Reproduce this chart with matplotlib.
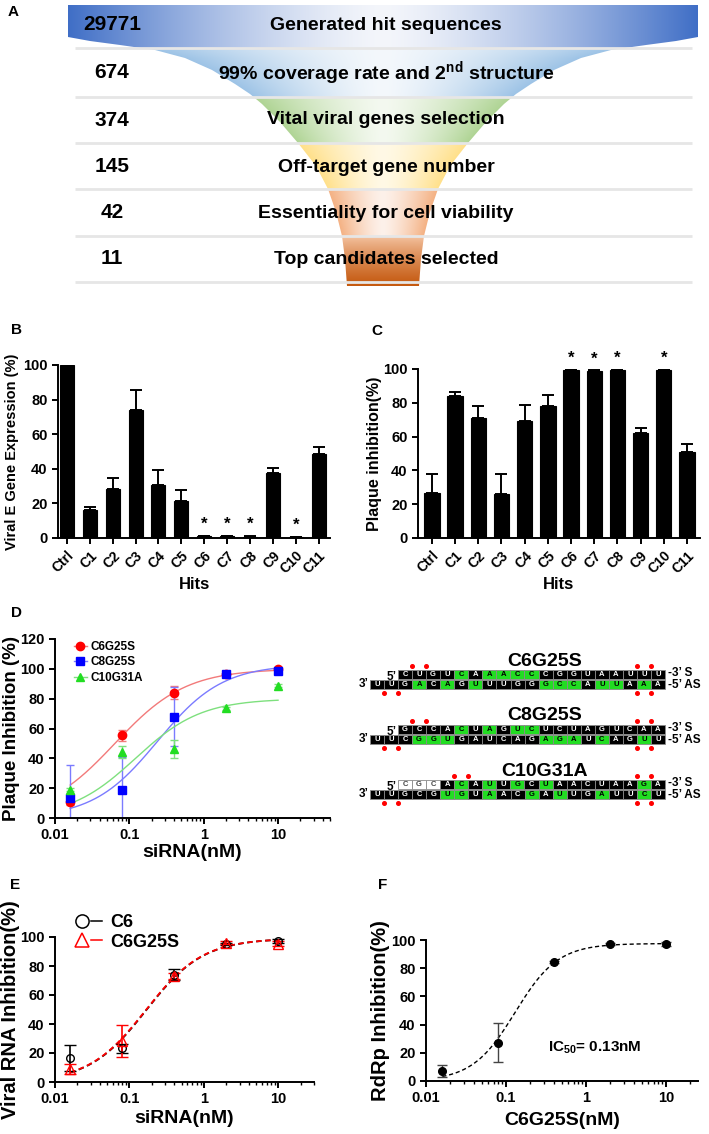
import numpy as np
import matplotlib
matplotlib.use('Agg')
import matplotlib.pyplot as plt
from matplotlib.colors import to_rgb
from matplotlib.patches import Polygon, Rectangle
from matplotlib.lines import Line2D
from matplotlib.legend_handler import HandlerTuple
from matplotlib.ticker import NullFormatter

# ---------------- data ----------------
# A: screening funnel
funnel_counts = ['29771', '674', '374', '145', '42', '11']
funnel_steps = ['Generated hit sequences',
                '99% coverage rate and 2$^{nd}$ structure',
                'Vital viral genes selection',
                'Off-target gene number',
                'Essentiality for cell viability',
                'Top candidates selected']

# B / C: hits
hits = ['Ctrl', 'C1', 'C2', 'C3', 'C4', 'C5', 'C6', 'C7', 'C8', 'C9', 'C10', 'C11']
e_gene_expr = [100, 16.4, 28.3, 73.8, 30.4, 21.6, 1.0, 1.0, 0.8, 37.6, 0.6, 48.7]
e_gene_err = [0, 1.5, 6.6, 11.9, 9.1, 5.9, 0.3, 0.3, 0.3, 2.7, 0.2, 3.9]
e_gene_sig = ['C6', 'C7', 'C8', 'C10']
plaque_inh = [26.9, 83.9, 71.3, 25.9, 69.4, 78.2, 99.2, 99.0, 99.2, 62.3, 99.2, 51.1]
plaque_err = [11.2, 2.3, 6.9, 11.8, 9.2, 6.5, 0.3, 0.3, 0.3, 2.9, 0.3, 4.5]
plaque_sig = ['C6', 'C7', 'C8', 'C10']

# D: dose response (plaque)
conc = [0.016, 0.08, 0.4, 2, 10]
d_names = ['C6G25S', 'C8G25S', 'C10G31A']
d_c6g25s = [10.5, 55.5, 84.0, 96.5, 100.0]
d_c6g25s_err = [1.5, 3.8, 4.5, 0.5, 0.5]
d_c8g25s = [13.5, 19.0, 68.0, 96.5, 98.5]
d_c8g25s_err = [22.0, 22.0, 20.0, 1.0, 1.0]
d_c10g31a = [19.0, 44.0, 46.5, 73.5, 88.5]
d_c10g31a_err = [1.0, 4.0, 6.0, 1.0, 1.0]
# fitted curves: top, EC50 (nM), hill slope
d_top = [100, 103, 80]
d_ec50 = [0.064, 0.24, 0.121]
d_hill = [0.91, 1.0, 0.98]

# D: modified siRNA sequences
seq_names = ['C6G25S', 'C8G25S', 'C10G31A']
sense_seqs = ['CUGUCAAACCCGGUAAUUU', 'GCCACUAGUCUCUAGUCAA', 'CGCACAUUGCUAACUAAGA']
sense_mods = ['kkkkgkggggkkkkkkkkk', 'kkkkgkgkggkkkkkkkkk', 'wwwkgkgkgkgkkkkkkgk']
as_seqs = ['UUGACAGUUUGGGCCAUUAAA', 'UUCGGUGAUCAGAGAUCAGUU', 'UUGCGUGUAACGAUUGAUUCU']
as_mods = ['kkkgkgkgkkkkgggkggkgk', 'kkkgggkkkkkkgggkgkkgk', 'kkkkkggkgkkgkgkkgkkgk']
sense_ps = [[1, 2, 17, 18], [1, 2, 17, 18], [4, 5, 17, 18]]
as_ps = [[1, 2, 19, 20], [1, 2, 19, 20], [1, 2, 19, 20]]

# E: viral RNA inhibition
e_c6 = [16.5, 23.2, 74.1, 95.2, 97.4]
e_c6_err = [8.7, 3.0, 3.7, 1.0, 1.2]
e_c6g25s = [9.2, 28.1, 73.2, 96.0, 95.5]
e_c6g25s_err = [3.4, 11.0, 2.0, 1.0, 1.8]
e_fit_c6 = (99, 0.1675, 1.13)
e_fit_c6g25s = (99, 0.165, 1.13)

# F: RdRp inhibition
rdrp = [7.1, 27.2, 84.2, 97.4, 96.9]
rdrp_err = [4.0, 13.8, 0.8, 0.8, 1.5]
f_fit = (97.5, 0.13, 1.62)

# ---------------- style ----------------
plt.rcParams['font.family'] = ['Liberation Sans', 'DejaVu Sans']
plt.rcParams['font.weight'] = 'bold'
plt.rcParams['axes.labelweight'] = 'bold'
plt.rcParams['mathtext.fontset'] = 'custom'
plt.rcParams['mathtext.rm'] = 'Liberation Sans:bold'
plt.rcParams['mathtext.it'] = 'Liberation Sans:bold'
plt.rcParams['mathtext.bf'] = 'Liberation Sans:bold'
plt.rcParams['mathtext.default'] = 'bf'
plt.rcParams['axes.linewidth'] = 1.4
for a in ('xtick', 'ytick'):
    plt.rcParams[a + '.major.width'] = 1.4
    plt.rcParams[a + '.minor.width'] = 1.0
    plt.rcParams[a + '.major.size'] = 4
    plt.rcParams[a + '.minor.size'] = 2.5

W, H = 709, 1134
fig = plt.figure(figsize=(W / 100, H / 100), dpi=100)


def px_axes(l, t, r, b):
    return fig.add_axes([l / W, 1 - b / H, (r - l) / W, (b - t) / H])


def four_pl(x, top, ec50, hill):
    return top / (1 + (ec50 / x) ** hill)


# ---------------- A ----------------
axA = px_axes(0, 0, W, 295)
axA.set_xlim(0, W)
axA.set_ylim(295, 0)
axA.axis('off')

cx = 383
fy = np.array([5, 37, 41, 45, 50, 58, 70, 84, 94, 104, 122, 143, 166, 189, 212, 236, 259, 286])
fx = np.array([68, 68, 90, 120, 155, 185, 212, 235, 250, 262, 280, 298, 316, 328, 336, 342, 345, 347])
poly = np.vstack([np.column_stack([fx, fy]), np.column_stack([2 * cx - fx, fy])[::-1]])
seps = [48, 97, 143, 189, 236, 282]

gy, gx = np.mgrid[0:290, 0:W].astype(float) + 0.5
half = cx - np.interp(gy, fy, fx)
half = np.where(gy < seps[0], cx - 68, half)
t = np.clip(np.abs(gx - cx) / half, 0, 1)
row = np.searchsorted(seps[:5], gy)
edge_cols = ['#3F6EC6', '#9DC3E6', '#AFD494', '#FFE08A', '#F4B183', '#C55A11']
center_cols = ['#F4F6FB', '#F4F8FC', '#F4F9F0', '#FFF9E6', '#FDF1EA', '#F6C7A6']
ec = np.array([to_rgb(c) for c in edge_cols])[row]
cc = np.array([to_rgb(c) for c in center_cols])[row]
img = cc + (ec - cc) * (t ** 1.4)[..., None]
v = np.clip((gy - 236) / 48, 0, 1)[..., None]
six = np.array(to_rgb('#F6C7A6')) + (np.array(to_rgb('#C55A11')) - np.array(to_rgb('#F6C7A6'))) * v ** 0.8
img = np.where((row == 5)[..., None], six, img)

funnel = Polygon(poly, closed=True, facecolor='none', edgecolor='none')
axA.add_patch(funnel)
im = axA.imshow(img, extent=(0, W, 290, 0), aspect='auto', interpolation='bilinear', zorder=1)
im.set_clip_path(funnel)
axA.hlines(seps, 75, 692, colors='#E6E6E6', lw=2, zorder=2)

row_y = [25, 73, 120, 167, 213, 259]
for y, n, s in zip(row_y, funnel_counts, funnel_steps):
    axA.text(112, y, n, ha='center', va='center', fontsize=15, zorder=3)
    axA.text(386, y, s, ha='center', va='center', fontsize=14, zorder=3)


# ---------------- B / C ----------------
def bar_panel(ax, values, errs, sig, xlim, width):
    x = np.arange(len(hits))
    vals = np.array(values)
    e = np.array(errs)
    ax.bar(x, vals, width=width, color='black', edgecolor='black', linewidth=0.8)
    m = e > 0
    ax.errorbar(x[m], vals[m], yerr=[np.zeros(m.sum()), e[m]], fmt='none', ecolor='black',
                elinewidth=1.4, capsize=4, capthick=1.4)
    for name in sig:
        i = hits.index(name)
        ax.text(i, vals[i] + 7, '*', ha='center', va='center', fontsize=12, clip_on=False)
    ax.set_xlim(*xlim)
    ax.set_ylim(0, 100)
    ax.set_yticks(range(0, 101, 20))
    ax.set_xticks(x)
    ax.set_xticklabels(hits, rotation=45, ha='right', rotation_mode='anchor', fontsize=10)
    ax.tick_params(axis='y', labelsize=10.5)
    ax.spines[['top', 'right']].set_visible(False)
    ax.set_xlabel('Hits', fontsize=12)


axB = px_axes(58, 365, 330, 538)
bar_panel(axB, e_gene_expr, e_gene_err, e_gene_sig, (-0.39, 11.5), 0.61)
axB.set_ylabel('Viral E Gene Expression (%)', fontsize=10.5)
axB.xaxis.set_label_coords(0.5, -0.225)
axB.yaxis.set_label_coords((19 - 58) / 272, 0.5)

axC = px_axes(418, 369, 700, 538)
bar_panel(axC, plaque_inh, plaque_err, plaque_sig, (-0.6, 11.56), 0.66)
axC.set_ylabel('Plaque inhibition(%)', fontsize=11.5)
axC.xaxis.set_label_coords(0.5, -(577 - 538) / 169)
axC.yaxis.set_label_coords((382 - 418) / 282, 0.5)


# ---------------- log-dose panels ----------------
def log_axes(ax, xmax, ymax, yticks):
    ax.set_xscale('log')
    ax.set_xlim(0.01, xmax)
    ax.set_ylim(0, ymax)
    ax.set_xticks([0.01, 0.1, 1, 10])
    ax.set_xticklabels(['0.01', '0.1', '1', '10'])
    ax.xaxis.set_minor_formatter(NullFormatter())
    ax.set_yticks(yticks)
    ax.spines[['top', 'right']].set_visible(False)
    ax.tick_params(labelsize=10.5)


xs = np.logspace(np.log10(conc[0]), np.log10(conc[-1]), 300)

# D left
axD = px_axes(55, 639, 330, 818)
log_axes(axD, 50, 120, range(0, 121, 20))
d_means = [d_c6g25s, d_c8g25s, d_c10g31a]
d_errs = [d_c6g25s_err, d_c8g25s_err, d_c10g31a_err]
pt_cols = ['#FF0000', '#0000FF', '#22DD22']
ln_cols = ['#F27A7A', '#7B7BFF', '#7EE07E']
marks = ['o', 's', '^']
handles = []
for name, mean, err, top, ec50, hill, pc, lc, mk in zip(d_names, d_means, d_errs, d_top, d_ec50,
                                                          d_hill, pt_cols, ln_cols, marks):
    axD.plot(xs, four_pl(xs, top, ec50, hill), color=lc, lw=1.0)
    axD.errorbar(conc, mean, yerr=err, fmt=mk, mfc=pc, mec=pc, ecolor=lc, elinewidth=1.0,
                 capsize=3, capthick=1.0, ms=6)
    handles.append(Line2D([], [], color=lc, lw=1.0, marker=mk, mfc=pc, mec=pc, ms=6))
axD.legend(handles, d_names, loc='upper left', bbox_to_anchor=(0.03, 1.05), frameon=False,
           fontsize=8.5, handlelength=1.1, handletextpad=0.3, labelspacing=0.3)
axD.set_ylabel('Plaque Inhibition (%)', fontsize=13.5)
axD.set_xlabel('siRNA(nM)', fontsize=14)
axD.yaxis.set_label_coords((20 - 55) / 275, 0.5)
axD.xaxis.set_label_coords(0.5, -(844 - 818) / 179)

# D right: sequences
axS = px_axes(355, 645, W, 810)
axS.set_xlim(355, W)
axS.set_ylim(810, 645)
axS.axis('off')
bw, bh = 14.05, 8.6
s_x0, a_x0 = 398, 370
mod_style = {'k': ('black', 'white'), 'g': ('#22DD22', 'black'), 'w': ('white', '#444444')}
for k, (name, ss, sm, aseq, am, sps, aps) in enumerate(zip(seq_names, sense_seqs, sense_mods,
                                                           as_seqs, as_mods, sense_ps, as_ps)):
    s_top = 670 + 55 * k
    a_top = s_top + 10
    axS.text(545, 661 + 55 * k, name, ha='center', va='center', fontsize=14)
    for x0, top, seq, mods in ((s_x0, s_top, ss, sm), (a_x0, a_top, aseq, am)):
        for i, (nt, md) in enumerate(zip(seq, mods)):
            fc, tc = mod_style[md]
            axS.add_patch(Rectangle((x0 + i * bw, top), bw, bh, facecolor=fc,
                                    edgecolor='#8A8A8A', lw=0.6))
            axS.text(x0 + (i + 0.5) * bw, top + bh / 2 + 0.3, nt, ha='center', va='center',
                     fontsize=5.5, color=tc)
    axS.plot([s_x0 + b * bw for b in sps], [s_top - 4] * len(sps), 'o', color='#FF0000', ms=2.6)
    axS.plot([a_x0 + b * bw for b in aps], [a_top + bh + 4] * len(aps), 'o', color='#FF0000', ms=2.6)
    axS.text(s_x0 - 1, s_top + bh * 0.8, '5’', ha='right', va='center', fontsize=8.5)
    axS.text(a_x0 - 1, a_top + bh / 2, '3’', ha='right', va='center', fontsize=8.5)
    axS.text(668, s_top + bh / 2 - 1, '-3’ S', ha='left', va='center', fontsize=8.5)
    axS.text(668, a_top + bh / 2 + 1, '-5’ AS', ha='left', va='center', fontsize=8.5)

# E
axE = px_axes(55, 937, 314, 1082)
log_axes(axE, 30, 100, range(0, 101, 20))
axE.plot(xs, four_pl(xs, *e_fit_c6), color='black', lw=1.3, dashes=(3, 2))
axE.plot(xs, four_pl(xs, *e_fit_c6g25s), color='red', lw=1.3, dashes=(3, 2))
axE.errorbar(conc, e_c6, yerr=e_c6_err, fmt='o', mfc='none', mec='black', mew=1.0, ms=5.5,
             ecolor='black', elinewidth=1.2, capsize=4, capthick=1.2)
axE.errorbar(conc, e_c6g25s, yerr=e_c6g25s_err, fmt='^', mfc='none', mec='red', mew=1.0, ms=6.5,
             ecolor='red', elinewidth=1.2, capsize=4, capthick=1.2)
h1 = (Line2D([], [], ls='none', marker='o', mfc='none', mec='black', ms=9.5, mew=1.1),
      Line2D([], [], color='black', lw=1.1))
h2 = (Line2D([], [], ls='none', marker='^', mfc='none', mec='red', ms=10, mew=1.1),
      Line2D([], [], color='red', lw=1.1))
axE.legend([h1, h2], ['C6', 'C6G25S'], handler_map={tuple: HandlerTuple(ndivide=None, pad=0.2)},
           loc='upper left', bbox_to_anchor=(0.02, 1.27), frameon=False, fontsize=13,
           handlelength=1.4, handletextpad=0.5, labelspacing=0.15)
axE.set_ylabel('Viral RNA Inhibition(%)', fontsize=14.5)
axE.set_xlabel('siRNA(nM)', fontsize=14)
axE.yaxis.set_label_coords((20 - 55) / 259, 0.5)
axE.xaxis.set_label_coords(0.5, -(1110 - 1082) / 145)

# F
axF = px_axes(426, 940, 698, 1081)
log_axes(axF, 25, 100, range(0, 101, 20))
axF.plot(xs, four_pl(xs, *f_fit), color='black', lw=1.0, dashes=(3, 2))
axF.errorbar(conc, rdrp, yerr=rdrp_err, fmt='o', color='black', ms=5.5, ecolor='#444444',
             elinewidth=1.0, capsize=3.5, capthick=1.0)
axF.text((548 - 426) / 272, (1081 - 1048) / 141, 'IC$_{50}$= 0.13nM', transform=axF.transAxes,
         ha='left', va='center', fontsize=11)
axF.set_ylabel('RdRp Inhibition(%)', fontsize=14.5)
axF.set_xlabel('C6G25S(nM)', fontsize=14)
axF.yaxis.set_label_coords((390 - 426) / 272, 0.5)
axF.xaxis.set_label_coords(0.5, -(1112 - 1081) / 141)

# panel letters
for lab, x, y in [('A', 13, 12), ('B', 17, 330), ('C', 377, 331), ('D', 17, 613),
                  ('E', 15, 885), ('F', 383, 885)]:
    fig.text(x / W, 1 - y / H, lab, ha='center', va='center', fontsize=11)

fig.savefig('out.png', dpi=100)
plt.close(fig)
